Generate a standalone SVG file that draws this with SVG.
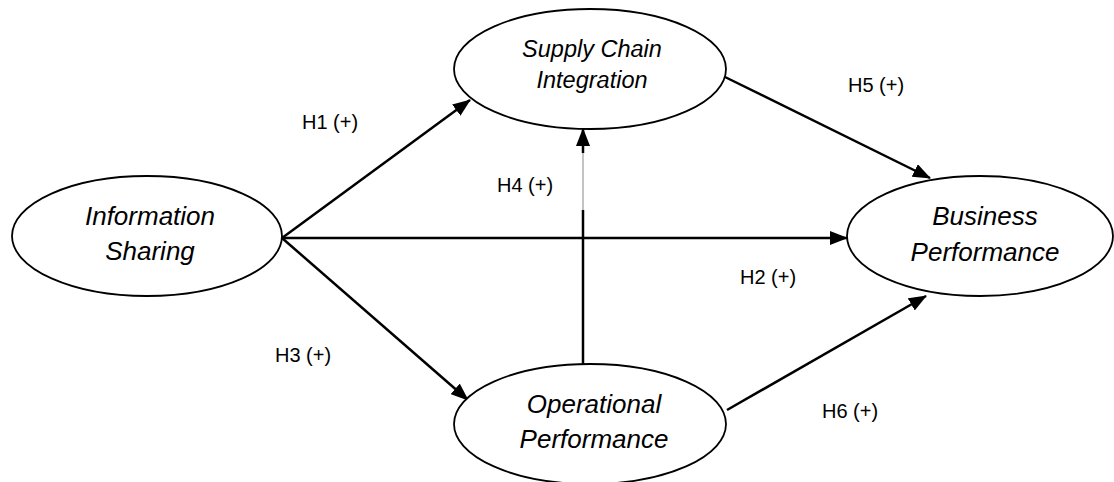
<svg xmlns="http://www.w3.org/2000/svg" width="1114" height="482" viewBox="0 0 1114 482">
<style>
.node ellipse{fill:#fff;stroke:#000;stroke-width:1.8}
.node text{font-family:"Liberation Sans",Arial,sans-serif;font-style:italic;font-size:26px;fill:#000;text-anchor:middle}
.conn line{stroke:#000;stroke-width:2.5}
.conn line.thin{stroke:#888;stroke-width:1}
.lbl{font-family:"Liberation Sans",Arial,sans-serif;font-size:20px;fill:#000}
</style>
<defs>
<marker id="arr" markerUnits="userSpaceOnUse" markerWidth="18" markerHeight="14" refX="17" refY="7" orient="auto" viewBox="0 0 18 14">
<path d="M0,0 L18,7 L0,14 z" fill="#000"/>
</marker>
</defs>
<rect width="1114" height="482" fill="#fff"/>
<g id="connectors" class="conn">
<line x1="282" y1="238" x2="470" y2="100" marker-end="url(#arr)"/>
<line x1="282" y1="238" x2="847" y2="238" marker-end="url(#arr)"/>
<line x1="282" y1="238" x2="468" y2="400" marker-end="url(#arr)"/>
<line x1="583" y1="364" x2="583" y2="210"/>
<line class="thin" x1="583" y1="210" x2="583" y2="153"/>
<line x1="583" y1="153" x2="583" y2="129" marker-end="url(#arr)"/>
<line x1="725" y1="77" x2="930" y2="178" marker-end="url(#arr)"/>
<line x1="727" y1="410" x2="926" y2="296" marker-end="url(#arr)"/>
</g>
<g id="information-sharing" class="node">
<ellipse cx="147" cy="236" rx="135" ry="60"/>
<text x="150" y="225">Information</text>
<text x="150" y="260">Sharing</text>
</g>
<g id="supply-chain-integration" class="node">
<ellipse cx="590" cy="69" rx="136" ry="60"/>
<text x="592" y="57" style="font-size:23.5px">Supply Chain</text>
<text x="592" y="88" style="font-size:23.5px">Integration</text>
</g>
<g id="operational-performance" class="node">
<ellipse cx="590" cy="424" rx="136" ry="60"/>
<text x="594" y="413">Operational</text>
<text x="594" y="448">Performance</text>
</g>
<g id="business-performance" class="node">
<ellipse cx="980" cy="236" rx="133" ry="60"/>
<text x="985" y="225">Business</text>
<text x="985" y="261">Performance</text>
</g>
<g id="labels">
<text class="lbl" x="302" y="129">H1 (+)</text>
<text class="lbl" x="740" y="284">H2 (+)</text>
<text class="lbl" x="275" y="362">H3 (+)</text>
<text class="lbl" x="497" y="192">H4 (+)</text>
<text class="lbl" x="848" y="92">H5 (+)</text>
<text class="lbl" x="822" y="418">H6 (+)</text>
</g>
</svg>
